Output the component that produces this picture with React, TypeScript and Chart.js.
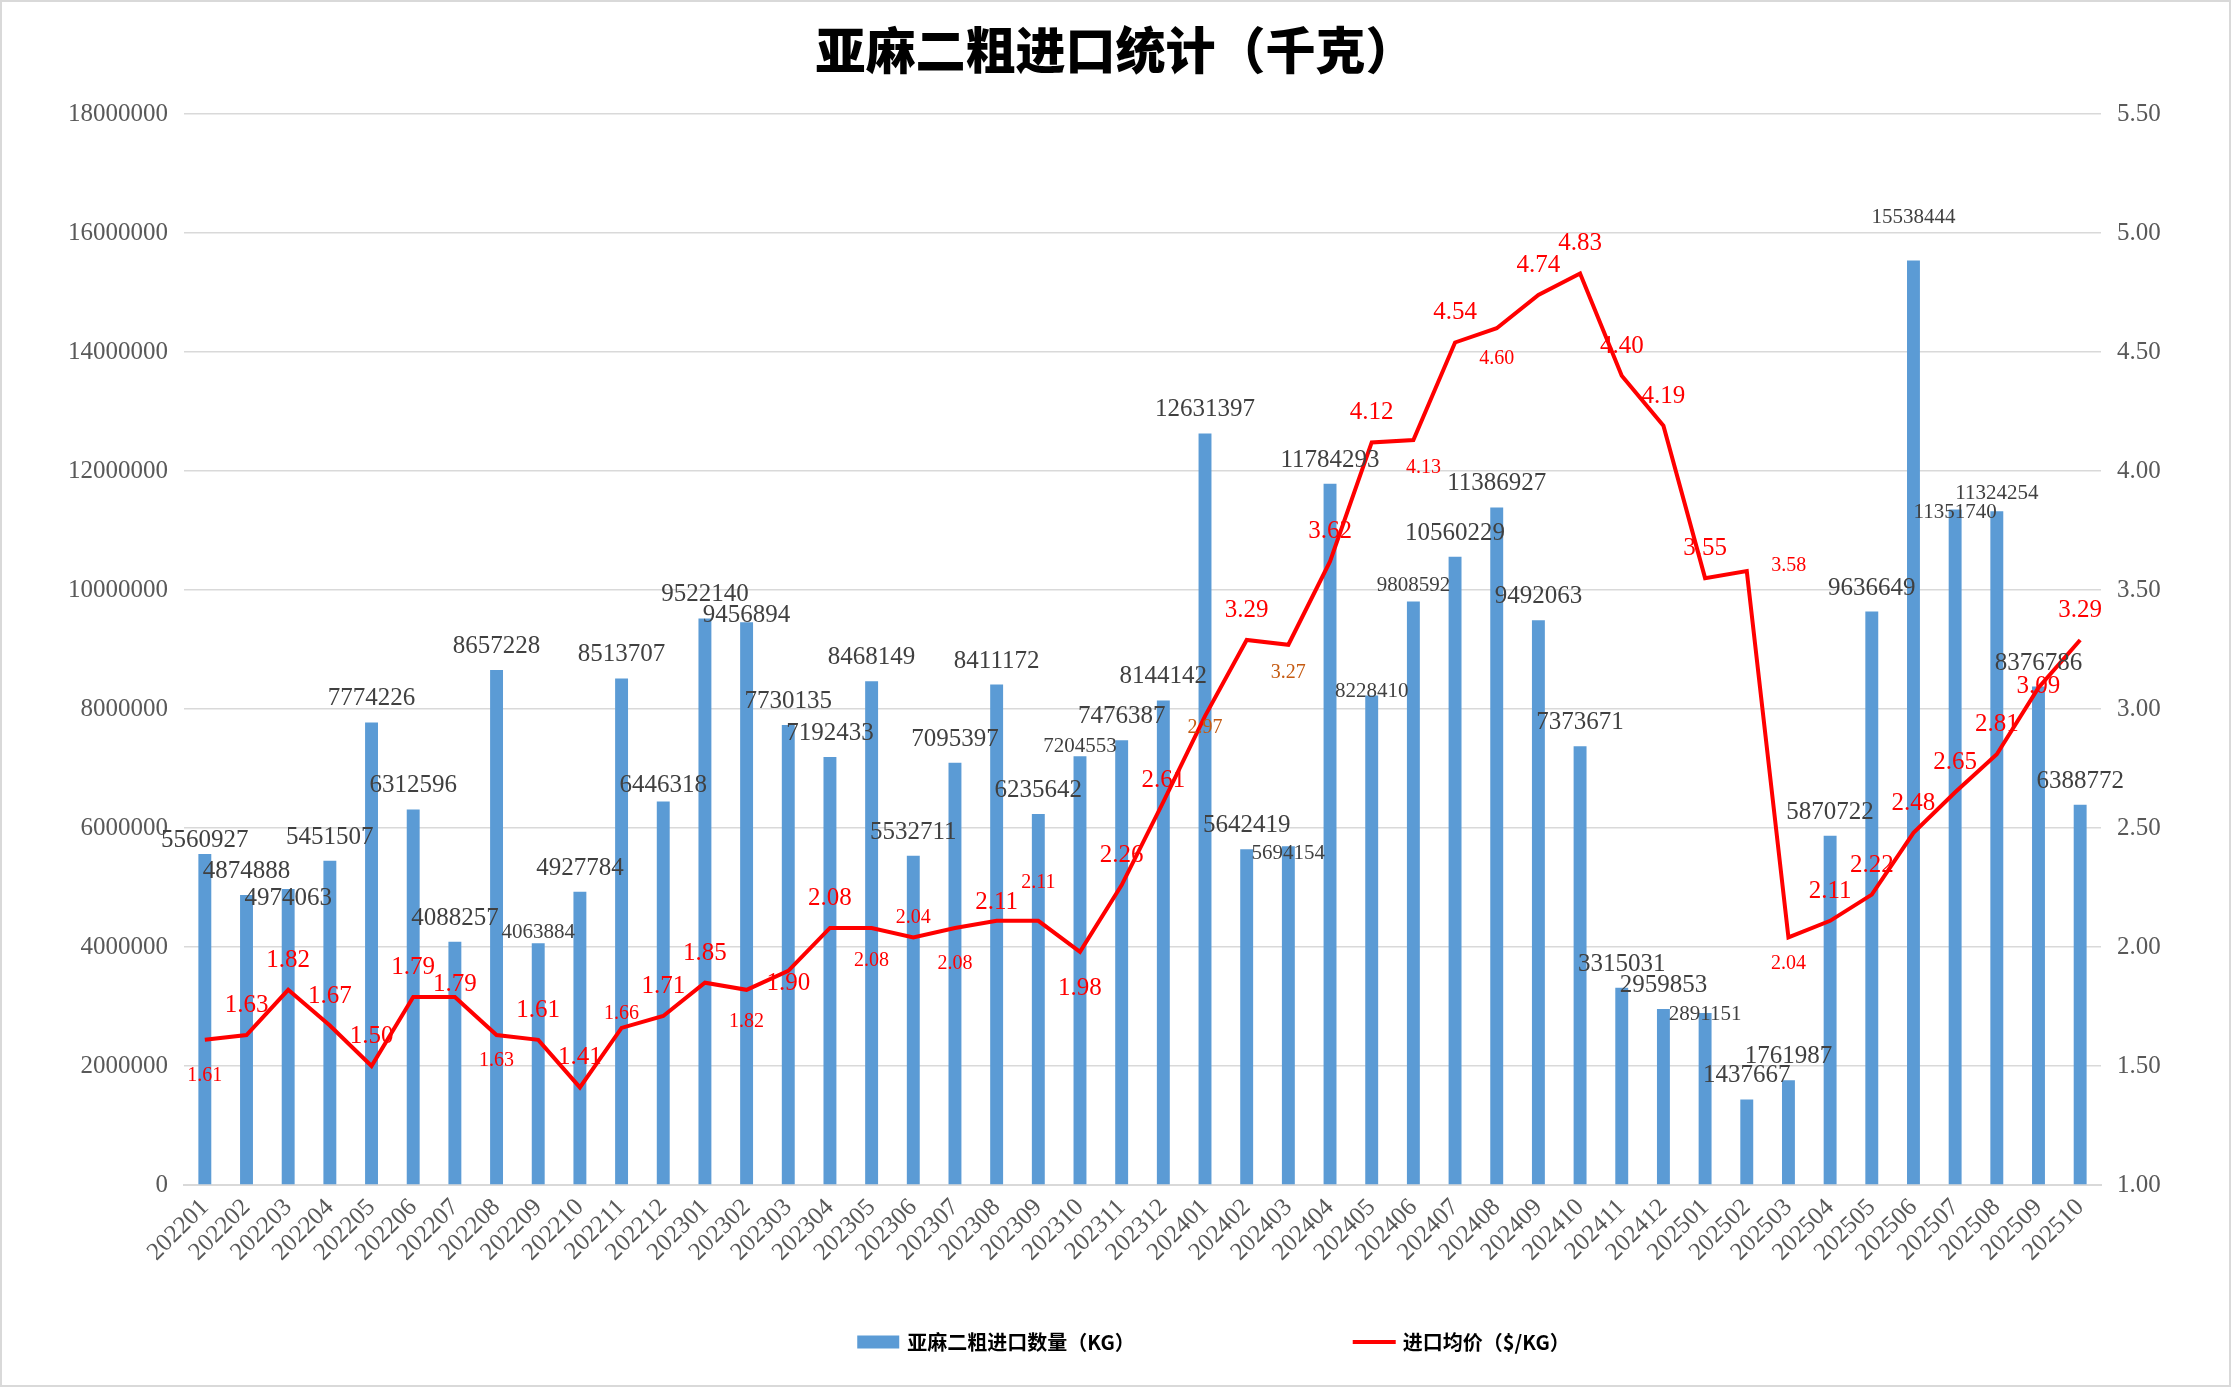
import { useEffect, useRef } from "react";
import { Chart, registerables } from "chart.js";

Chart.register(...registerables);

const months = [
  "202201", "202202", "202203", "202204", "202205", "202206", "202207", "202208", "202209", "202210", "202211", "202212",
  "202301", "202302", "202303", "202304", "202305", "202306", "202307", "202308", "202309", "202310", "202311", "202312",
  "202401", "202402", "202403", "202404", "202405", "202406", "202407", "202408", "202409", "202410", "202411", "202412",
  "202501", "202502", "202503", "202504", "202505", "202506", "202507", "202508", "202509", "202510",
];

const importQty = [
  5560927, 4874888, 4974063, 5451507, 7774226, 6312596, 4088257, 8657228, 4063884, 4927784, 8513707, 6446318,
  9522140, 9456894, 7730135, 7192433, 8468149, 5532711, 7095397, 8411172, 6235642, 7204553, 7476387, 8144142,
  12631397, 5642419, 5694154, 11784293, 8228410, 9808592, 10560229, 11386927, 9492063, 7373671, 3315031, 2959853,
  2891151, 1437667, 1761987, 5870722, 9636649, 15538444, 11351740, 11324254, 8376786, 6388772,
];

const avgPrice = [
  1.61, 1.63, 1.82, 1.67, 1.5, 1.79, 1.79, 1.63, 1.61, 1.41, 1.66, 1.71,
  1.85, 1.82, 1.9, 2.08, 2.08, 2.04, 2.08, 2.11, 2.11, 1.98, 2.26, 2.61,
  2.97, 3.29, 3.27, 3.62, 4.12, 4.13, 4.54, 4.6, 4.74, 4.83, 4.4, 4.19,
  3.55, 3.58, 2.04, 2.11, 2.22, 2.48, 2.65, 2.81, 3.09, 3.29,
];

const qtyTicks = [0, 2000000, 4000000, 6000000, 8000000, 10000000, 12000000, 14000000, 16000000, 18000000];
const priceTicks = [1, 1.5, 2, 2.5, 3, 3.5, 4, 4.5, 5, 5.5];

const qtyLabel = "亚麻二粗进口数量（KG）";
const priceLabel = "进口均价（$/KG）";
const titleText = "亚麻二粗进口统计（千克）";

// label styling (kept apart from the data)
const smallQtyLabels = [8, 21, 26, 28, 29, 36, 41, 42, 43];
const qtyLabelGap: Record<number, number> = {
  0: 7, 2: -16, 8: 5, 11: 9, 13: 0, 21: 4, 26: -13, 28: -2, 29: 10, 36: -7, 41: 37, 42: -8, 43: 12,
};
const smallPriceLabels = [0, 7, 10, 13, 16, 17, 18, 20, 24, 26, 29, 31, 37, 38];
const orangePriceLabels = [24, 26];
const priceLabelDy: Record<number, number> = {
  0: 41, 6: -6, 7: 31, 10: -9, 13: 37, 14: 19, 16: 38, 17: -14, 18: 41, 19: -12, 20: -33, 21: 43,
  23: -15, 24: 17, 26: 33, 29: 33, 31: 36, 37: 0, 38: 32, 44: 5,
};
const priceLabelDx: Record<number, number> = { 29: 10, 37: 42 };

const SERIF = '"Liberation Serif", "Times New Roman", serif';
const CJK = '"Noto Sans CJK SC", "Noto Sans", sans-serif';
const BAR_BLUE = "#5b9bd5";
const LINE_RED = "#ff0000";

const backgroundPlugin = {
  id: "bgBorder",
  beforeDraw(chart: Chart) {
    const { ctx, width, height } = chart;
    ctx.save();
    ctx.fillStyle = "#ffffff";
    ctx.fillRect(0, 0, width, height);
    ctx.strokeStyle = "#d9d9d9";
    ctx.lineWidth = 2;
    ctx.strokeRect(1, 1, width - 2, height - 2);
    ctx.restore();
  },
};

const valueLabelPlugin = {
  id: "valueLabels",
  afterDatasetsDraw(chart: Chart) {
    const { ctx } = chart;
    const xs = chart.scales.x;
    const ys = chart.scales.y;
    const y1 = chart.scales.y1;
    ctx.save();
    ctx.textAlign = "center";
    ctx.textBaseline = "alphabetic";

    importQty.forEach((v, i) => {
      const x = xs.getPixelForValue(i);
      const top = ys.getPixelForValue(v);
      const gap = qtyLabelGap[i] ?? 17;
      ctx.font = `${smallQtyLabels.includes(i) ? 21 : 25}px ${SERIF}`;
      ctx.fillStyle = "#404040";
      ctx.fillText(String(v), x, top - gap);
    });

    avgPrice.forEach((v, i) => {
      const x = xs.getPixelForValue(i) + (priceLabelDx[i] ?? 0);
      const py = y1.getPixelForValue(v);
      const dy = priceLabelDy[i] ?? -23;
      ctx.font = `${smallPriceLabels.includes(i) ? 20 : 25}px ${SERIF}`;
      ctx.fillStyle = orangePriceLabels.includes(i) ? "#c55a11" : LINE_RED;
      ctx.fillText(v.toFixed(2), x, py + dy);
    });
    ctx.restore();
  },
};

const legendPlugin = {
  id: "bottomLegend",
  afterDraw(chart: Chart) {
    const { ctx, width, height } = chart;
    ctx.save();
    ctx.font = `bold 20px ${CJK}`;
    ctx.textBaseline = "middle";
    ctx.textAlign = "left";
    const w1 = ctx.measureText(qtyLabel).width;
    const w2 = ctx.measureText(priceLabel).width;
    const gap = 218;
    const total = 42 + 8 + w1 + gap + 43 + 7 + w2;
    const cy = height - 45;
    let x = width / 2 + 98 - total / 2;

    ctx.fillStyle = BAR_BLUE;
    ctx.fillRect(x, cy - 6.5, 42, 13);
    x += 50;
    ctx.fillStyle = "#000000";
    ctx.fillText(qtyLabel, x, cy);
    x += w1 + gap;

    ctx.strokeStyle = LINE_RED;
    ctx.lineWidth = 4;
    ctx.beginPath();
    ctx.moveTo(x, cy);
    ctx.lineTo(x + 43, cy);
    ctx.stroke();
    x += 50;
    ctx.fillText(priceLabel, x, cy);
    ctx.restore();
  },
};

export default function App() {
  const canvasRef = useRef<HTMLCanvasElement | null>(null);
  const chartRef = useRef<Chart | null>(null);

  useEffect(() => {
    if (!canvasRef.current) return;
    if (chartRef.current) chartRef.current.destroy();

    const tickFont = { family: SERIF, size: 25 };

    chartRef.current = new Chart(canvasRef.current, {
      type: "bar",
      data: {
        labels: months,
        datasets: [
          {
            type: "line",
            label: priceLabel,
            data: avgPrice,
            yAxisID: "y1",
            borderColor: LINE_RED,
            backgroundColor: LINE_RED,
            borderWidth: 4,
            pointRadius: 0,
            tension: 0,
            order: 0,
          },
          {
            type: "bar",
            label: qtyLabel,
            data: importQty,
            yAxisID: "y",
            backgroundColor: BAR_BLUE,
            barPercentage: 0.31,
            categoryPercentage: 1,
            order: 1,
          },
        ] as any,
      },
      options: {
        animation: false,
        responsive: true,
        maintainAspectRatio: false,
        layout: { padding: 0 },
        plugins: {
          legend: { display: false },
          tooltip: { enabled: false },
          title: {
            display: true,
            text: titleText,
            color: "#000000",
            font: { family: CJK, size: 50, weight: "900", lineHeight: 1.2 },
            padding: { top: 20, bottom: 34 },
          },
        },
        scales: {
          x: {
            grid: { drawOnChartArea: false, drawTicks: false },
            border: { display: true, color: "#d9d9d9", width: 2 },
            ticks: {
              autoSkip: false,
              minRotation: 45,
              maxRotation: 45,
              padding: 8,
              color: "#595959",
              font: tickFont,
            },
            afterFit: (s: any) => {
              s.height = 202;
            },
          },
          y: {
            position: "left",
            min: qtyTicks[0],
            max: qtyTicks[qtyTicks.length - 1],
            afterBuildTicks: (s: any) => {
              s.ticks = qtyTicks.map((value) => ({ value }));
            },
            grid: { color: "#d9d9d9", lineWidth: 1.5, drawTicks: false },
            border: { display: false },
            ticks: {
              padding: 16,
              color: "#595959",
              font: tickFont,
              callback: (v: any) => String(v),
            },
            afterFit: (s: any) => {
              s.width = 184;
            },
          },
          y1: {
            position: "right",
            min: priceTicks[0],
            max: priceTicks[priceTicks.length - 1],
            afterBuildTicks: (s: any) => {
              s.ticks = priceTicks.map((value) => ({ value }));
            },
            grid: { display: false, drawTicks: false },
            border: { display: false },
            ticks: {
              padding: 16,
              color: "#595959",
              font: tickFont,
              callback: (v: any) => Number(v).toFixed(2),
            },
            afterFit: (s: any) => {
              s.width = 130;
            },
          },
        },
      },
      plugins: [backgroundPlugin, valueLabelPlugin, legendPlugin],
    });

    return () => {
      if (chartRef.current) {
        chartRef.current.destroy();
        chartRef.current = null;
      }
    };
  }, []);

  return (
    <div style={{ position: "fixed", left: 0, top: 0, width: 2231, height: 1387, background: "#fff" }}>
      <canvas ref={canvasRef} />
    </div>
  );
}
